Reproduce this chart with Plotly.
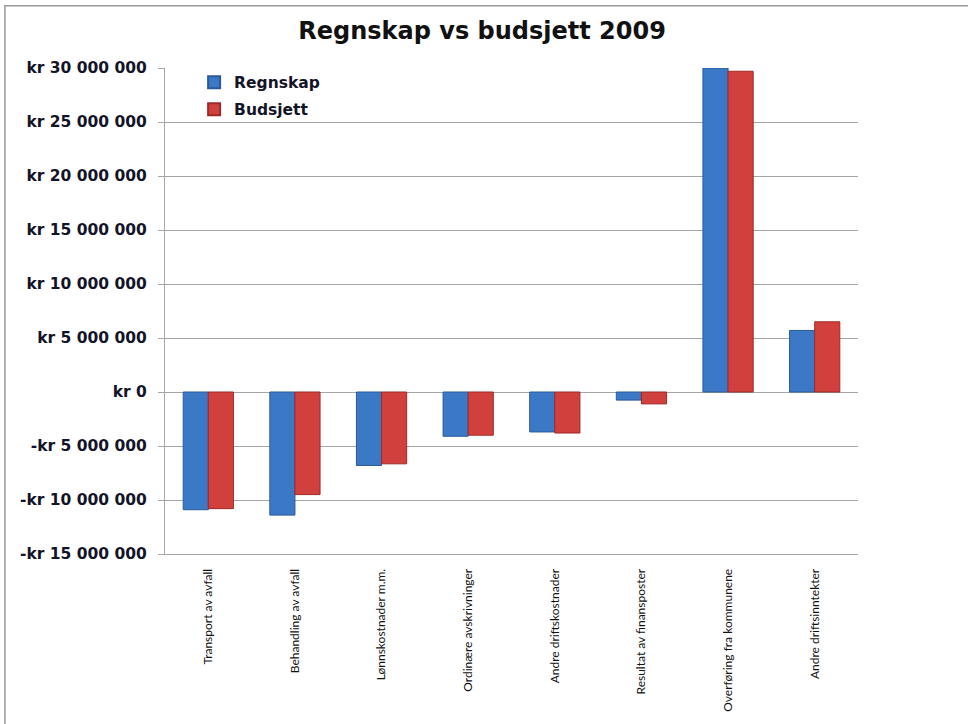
import plotly.graph_objects as go

# Données
categories = [
    "Transport av avfall",
    "Behandling av avfall",
    "Lønnskostnader m.m.",
    "Ordinære avskrivninger",
    "Andre driftskostnader",
    "Resultat av finansposter",
    "Overføring fra kommunene",
    "Andre driftsinntekter",
]
regnskap = [-10900000, -11400000, -6800000, -4100000, -3700000, -750000, 30000000, 5700000]
budsjett = [-10800000, -9500000, -6650000, -4000000, -3800000, -1100000, 29700000, 6500000]

tick_vals = [30000000, 25000000, 20000000, 15000000, 10000000, 5000000, 0,
             -5000000, -10000000, -15000000]
tick_text = ["kr 30 000 000", "kr 25 000 000", "kr 20 000 000", "kr 15 000 000",
             "kr 10 000 000", "kr 5 000 000", "kr 0", "-kr 5 000 000",
             "-kr 10 000 000", "-kr 15 000 000"]

C_BLUE = "#3b78c6"
C_RED = "#d2403d"
C_GRID = "#a6a6a6"
C_TEXT = "#141428"
FONT_BOLD = "DejaVu Sans"
FONT_CAT = "Lato"

fig = go.Figure()
fig.add_bar(
    x=categories, y=regnskap, name="Regnskap", legendgroup="r",
    marker=dict(color=C_BLUE, line=dict(color="#2a5a99", width=1)),
)
fig.add_bar(
    x=categories, y=budsjett, name="Budsjett", legendgroup="b",
    marker=dict(color=C_RED, line=dict(color="#9e2a28", width=1)),
)

fig.update_layout(
    width=968, height=724,
    barmode="group", bargap=0.42, bargroupgap=0,
    title=dict(
        text="<b>Regnskap vs budsjett 2009</b>",
        font=dict(family=FONT_BOLD, size=24, color="#111111"),
        x=0.498, xanchor="center", y=0.958, yanchor="middle",
    ),
    font=dict(family=FONT_BOLD, size=13, color=C_TEXT),
    plot_bgcolor="#ffffff",
    paper_bgcolor="#ffffff",
    margin=dict(l=165, r=110, t=68, b=170),
    showlegend=True,
    legend=dict(
        x=0.042, y=1.005, xanchor="left", yanchor="top",
        font=dict(family=FONT_BOLD, size=15.5, color=C_TEXT, weight="bold"),
        bgcolor="rgba(0,0,0,0)",
        tracegroupgap=4, itemsizing="constant",
    ),
    shapes=[dict(
        type="rect", xref="paper", yref="paper",
        x0=-0.231, x1=1.2, y0=-0.5, y1=1.128,
        line=dict(color="#9a9a9a", width=1.5), layer="below",
    )],
)
fig.update_xaxes(
    tickangle=-90, showgrid=False, showline=True, linecolor=C_GRID,
    tickfont=dict(family=FONT_CAT, size=12, color="#111111"),
    ticks="", ticklabelstandoff=9, automargin=False,
)
fig.update_yaxes(
    range=[-15000000, 30000000], tickvals=tick_vals, ticktext=tick_text,
    showgrid=True, gridcolor=C_GRID, gridwidth=1,
    zeroline=True, zerolinecolor=C_GRID, zerolinewidth=1,
    showline=True, linecolor=C_GRID,
    ticks="outside", ticklen=6, tickcolor=C_GRID, ticklabelstandoff=8,
    tickfont=dict(family=FONT_BOLD, size=15.5, color=C_TEXT, weight="bold"),
    automargin=False,
)

fig.write_html(
    "out.html",
    config={"displayModeBar": False},
    post_script="document.body.style.margin='0';",
)
